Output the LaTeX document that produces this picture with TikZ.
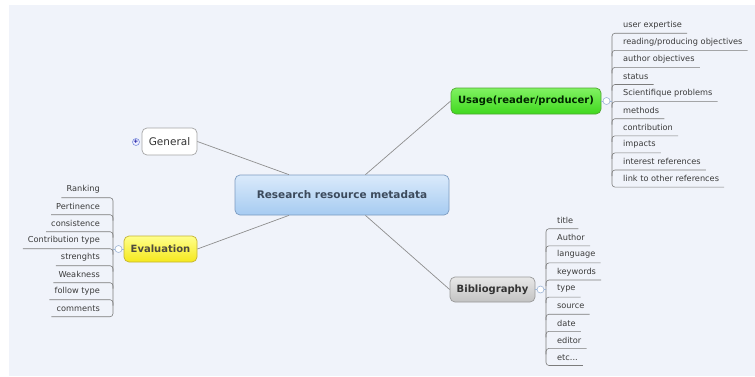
\documentclass[tikz,border=0pt]{standalone}
\usepackage{fontspec}
\setmainfont{DejaVu Sans}
\definecolor{bgblue}{HTML}{F0F3FA}
\definecolor{linegray}{HTML}{8E8E8E}
\definecolor{twiggray}{HTML}{7C7C7C}
\definecolor{leaftext}{HTML}{3A3A3A}
\definecolor{knobblue}{HTML}{9DB5D6}
\definecolor{roottext}{HTML}{3C4A5C}
\definecolor{roottop}{HTML}{DAEAFB}
\definecolor{rootbot}{HTML}{A6CBF1}
\definecolor{rootline}{HTML}{7C9BC0}
\definecolor{usagetop}{HTML}{80F262}
\definecolor{usagebot}{HTML}{40D81E}
\definecolor{usageline}{HTML}{4FA830}
\definecolor{evaltop}{HTML}{FFFF8C}
\definecolor{evalbot}{HTML}{F5E81C}
\definecolor{evalline}{HTML}{C4B432}
\definecolor{bibtop}{HTML}{E8E8E8}
\definecolor{bibbot}{HTML}{C2C2C2}
\definecolor{bibline}{HTML}{999999}
\begin{document}
\begin{tikzpicture}[x=1pt,y=-1pt,
  topic/.style={draw, rounded corners=5pt, line width=0.7pt, inner sep=0pt,
    font=\bfseries\fontsize{10}{12}\selectfont},
  leaf/.style={font=\fontsize{8.2}{10}\selectfont, text=leaftext,
    minimum height=16pt, inner ysep=0pt, inner xsep=5pt},
  branch/.style={draw=linegray, line width=0.7pt},
  twig/.style={draw=twiggray, line width=0.6pt, rounded corners=3pt},
  knob/.style={circle, draw=knobblue, fill=white, line width=0.6pt,
    minimum size=7pt, inner sep=0pt}]
\useasboundingbox (0,0) rectangle (755,376);
\fill[bgblue] (9,5) rectangle (755,376);

% main topics
\node[topic, draw=rootline, top color=roottop, bottom color=rootbot,
  minimum width=214pt, minimum height=40pt, text=roottext,
  font=\bfseries\fontsize{10.5}{12}\selectfont] (root) at (342,195) {Research resource metadata};
\node[topic, draw=gray!70, fill=white, minimum width=55pt, minimum height=27pt,
  font=\fontsize{10.5}{12}\selectfont, text=black!80] (general) at (169.5,141.5) {General};
\node[topic, draw=usageline, top color=usagetop, bottom color=usagebot,
  minimum width=150pt, minimum height=26pt, text=black!85!green] (usage) at (526,101) {Usage(reader/producer)};
\node[topic, draw=evalline, top color=evaltop, bottom color=evalbot,
  minimum width=73pt, minimum height=26pt, text=black!80!yellow] (eval) at (160.5,249) {Evaluation};
\node[topic, draw=bibline, top color=bibtop, bottom color=bibbot,
  minimum width=85pt, minimum height=25pt, text=black!80] (biblio) at (492.5,289.5) {Bibliography};

\draw[branch] (general.east) -- (root.159);
\draw[branch] (root.41) -- (usage.west);
\draw[branch] (eval.east) -- (root.201);
\draw[branch] (root.319) -- (biblio.west);

% trunks of the sub-trees
\coordinate (ut) at (612,101);
\coordinate (et) at (113,249);
\coordinate (bt) at (546,289.5);

% usage
\foreach \t [count=\i] in {user expertise, reading/producing objectives, author objectives,
  status, Scientifique problems, methods, contribution, impacts, interest references,
  link to other references}
  \node[leaf, anchor=west] (u\i) at (618,{25+17.1*(\i-1)}) {\t};
\draw[twig] (u1.south east) -- (ut |- u1.south) -- (ut |- u10.south) -- (u10.south east);
\foreach \i in {2,...,9}
  \draw[twig] (u\i.south east) -- (ut |- u\i.south) -- ++(0,6);
\draw[knobblue, line width=0.6pt] (usage.east) -- (ut);
\node[knob] (uk) at (606.5,101) {};

% evaluation
\foreach \t [count=\i] in {Ranking, Pertinence, consistence, Contribution type,
  strenghts, Weakness, follow type, comments}
  \node[leaf, anchor=east] (e\i) at (105,{189.5+17*(\i-1)}) {\t};
\draw[twig] (e1.south west) -- (et |- e1.south) -- (et |- e8.south) -- (e8.south west);
\foreach \i in {2,...,7}
  \draw[twig] (e\i.south west) -- (et |- e\i.south) -- ++(0,6);
\draw[knobblue, line width=0.6pt] (eval.west) -- (et);
\node[knob] (ek) at (118.5,249) {};

% bibliography
\foreach \t [count=\i] in {title, Author, language, keywords, type, source, date,
  editor, {etc.{}.{}.}}
  \node[leaf, anchor=west] (b\i) at (552,{220.5+17.1*(\i-1)}) {\t};
\draw[twig] (b1.south east) -- (bt |- b1.south) -- (bt |- b9.south) -- (b9.south east);
\foreach \i in {2,...,8}
  \draw[twig] (b\i.south east) -- (bt |- b\i.south) -- ++(0,6);
\draw[knobblue, line width=0.6pt] (biblio.east) -- (bt);
\node[knob] (bk) at (540.5,289.5) {};

% collapsed knob of general
\node[knob, draw=knobblue!80!blue, fill=blue!6, text=blue!60!black,
  font=\bfseries\fontsize{6}{6}\selectfont] (gk) at (136,142) {+};
\end{tikzpicture}
\end{document}
